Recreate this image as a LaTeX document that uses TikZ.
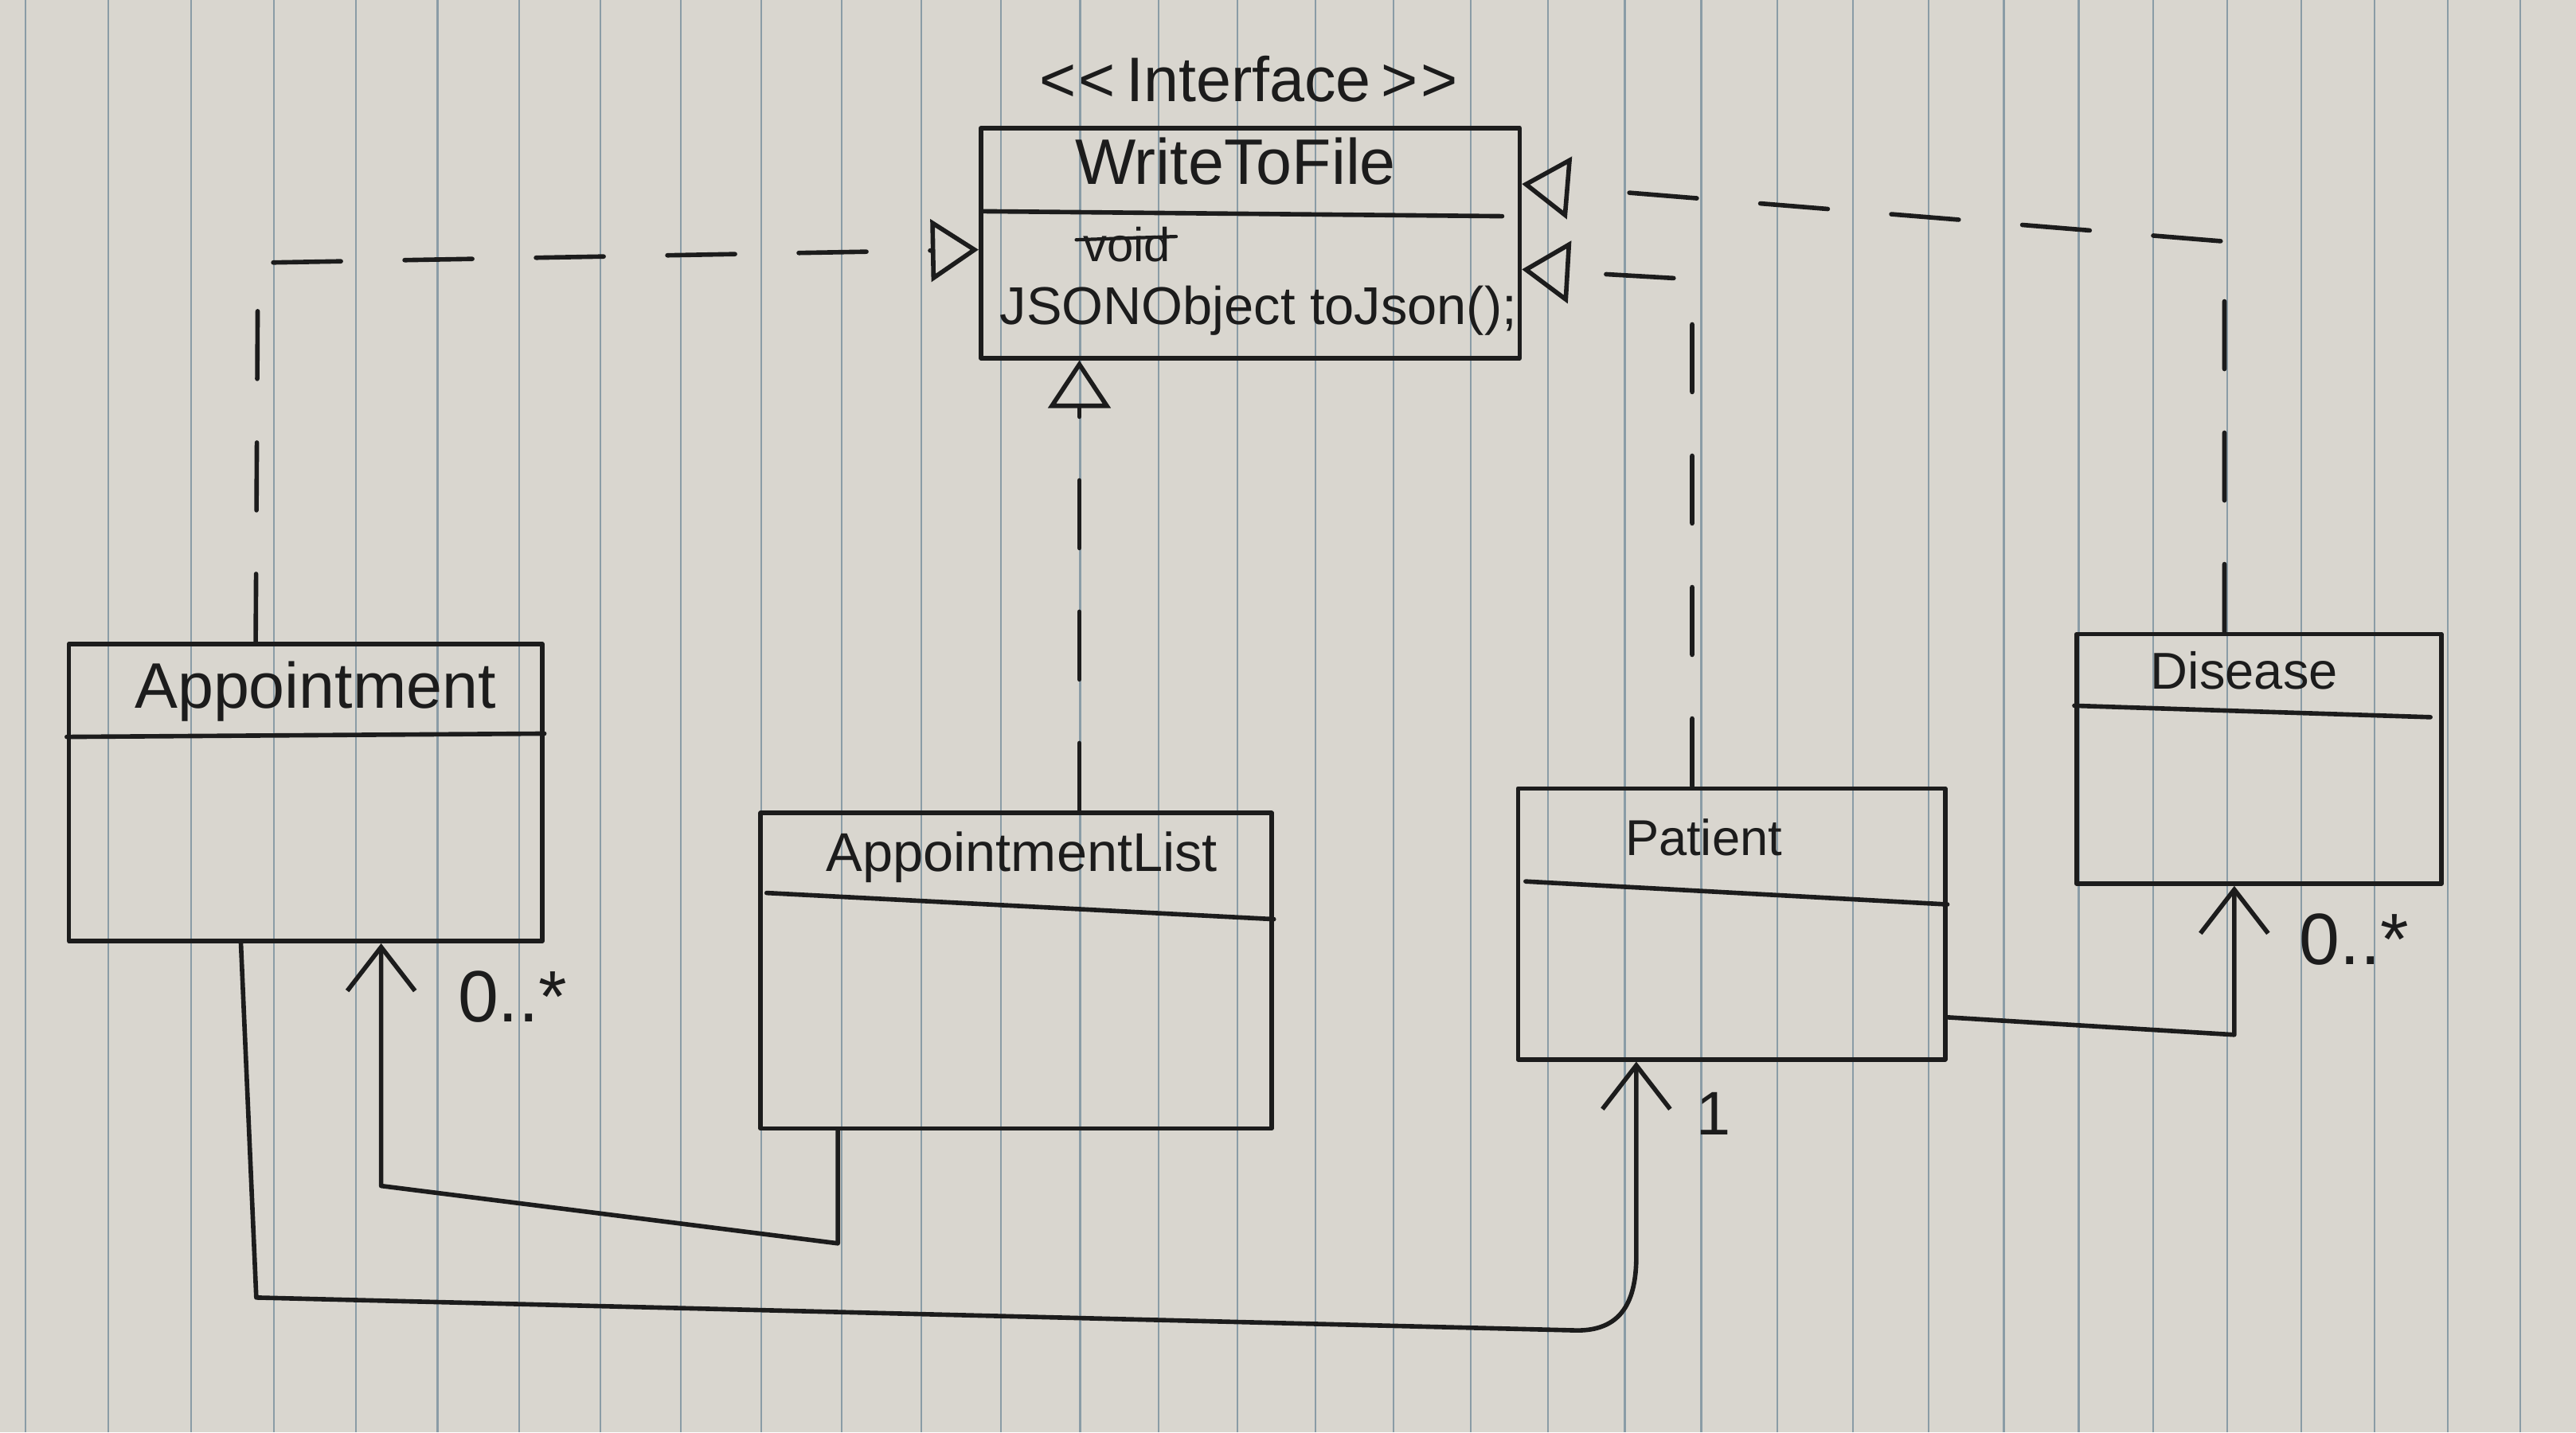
\documentclass[tikz,border=0pt]{standalone}
\usepackage{fontspec}
\setmainfont{Liberation Sans}
\usetikzlibrary{arrows.meta,fit,calc}
\definecolor{paper}{HTML}{D9D6CF}
\definecolor{rulec}{HTML}{8A9CA6}
\definecolor{ink}{HTML}{1C1C1C}
\begin{document}
\begin{tikzpicture}[x={(0.02063cm,0)}, y={(0,-0.02063cm)},
  pen/.style={draw=ink, line width=1.6pt, line cap=round, line join=round},
  cls/.style={pen, inner sep=0pt, rectangle},
  lbl/.style={inner sep=0pt, text=ink, anchor=center},
  dashpat/.style={dash pattern=on 0.85cm off 0.8cm},
  real/.style={pen, dashpat, -{Triangle[open, length=0.6cm, width=0.78cm]}},
  assoc/.style={pen, -{Straight Barb[length=0.55cm, width=0.85cm]}},
  rulestyle/.style={draw=rulec, line width=0.6pt},
  fs/.style={font=\fontsize{#1}{#1}\selectfont}]

% paper
\fill[paper] (0,0) rectangle (1568,872);
\useasboundingbox (0,0) rectangle (1568,872);
\foreach \k in {-1,...,31} {
  \pgfmathsetmacro\xx{(136+104*\k-0.2095*\k*(\k-1))/2.063}
  \draw[rulestyle] (\xx,0) -- (\xx,872);
}

% interface
\node[cls, fit={(597,78) (925,218)}] (iface) {};
\draw[pen] ($(iface.north west)+(3,52)$) -- ($(iface.north east)+(-12,55)$);
\node[lbl, fs=22.5] (stereo) at (760,48) {\textless\kern1pt\textless\,Interface\,\textgreater\kern1pt\textgreater};
\node[lbl, fs=23] (ifname) at (752,98) {WriteToFile};
\node[lbl, fs=17] (void) at (686,149) {void};
\draw[pen, line width=1.2pt] ($(void.west)+(-4,-3)$) -- ($(void.east)+(3,-5)$);
\node[lbl, fs=19] (method) at (766,189) {JSONObject toJson();};

% classes
\node[cls, fit={(42,392) (330,573)}] (appt) {};
\draw[pen] ($(appt.north west)+(0,58)$) -- ($(appt.north east)+(0,56)$);
\node[lbl, fs=23] (apptname) at (192,421) {Appointment};

\node[cls, fit={(463,495) (774,687)}] (alist) {};
\draw[pen] ($(alist.north west)+(5,50)$) -- ($(alist.north east)+(0,66)$);
\node[lbl, fs=19.5] (alistname) at (622,522) {AppointmentList};

\node[cls, fit={(924,480) (1184,645)}] (patient) {};
\draw[pen] ($(patient.north west)+(6,58)$) -- ($(patient.north east)+(0,72)$);
\node[lbl, fs=18] (patientname) at (1037,510) {Patient};

\node[cls, fit={(1264,386) (1486,538)}] (disease) {};
\draw[pen] ($(disease.north west)+(0,45)$) -- ($(disease.north east)+(-8,52)$);
\node[lbl, fs=18.5] (diseasename) at (1366,408) {Disease};

% associations
\coordinate (a1) at (510,757);
\coordinate (a2) at (232,722);
\draw[assoc] (alist.south -| a1) -- (a1) -- (a2) -- (appt.south -| a2);
\node[lbl, fs=26] (m1) at (312,607) {0..*};

\coordinate (b1) at (156,790);
\coordinate (b2) at (960,810);
\coordinate (b3) at (996,765);
\draw[assoc] ($(appt.south west)+(106,0)$) -- (b1) -- (b2)
  .. controls (985,810) and (996,795) .. (b3) -- (patient.south -| b3);
\node[lbl, fs=22] (m2) at (1043,678) {1};

\coordinate (d1) at (1360,630);
\draw[assoc] ($(patient.south east)+(0,-27)$) -- (d1) -- (disease.south -| d1);
\node[lbl, fs=26] (m3) at (1433,572) {0..*};

% realizations
\coordinate (r1) at (157,160);
\coordinate (r2) at (0,152);
\draw[real] ($(appt.north west)+(115,0)$) -- (r1) -- (iface.west |- r2);

\coordinate (s1) at (657,0);
\draw[real] (alist.north -| s1) -- (iface.south -| s1);

\coordinate (p1) at (1030,170);
\coordinate (p2) at (0,164);
\draw[real] (patient.north -| p1) -- (p1) -- (iface.east |- p2);

\coordinate (q1) at (1354,147);
\coordinate (q2) at (0,112);
\draw[real] (disease.north -| q1) -- (q1) -- (iface.east |- q2);
\end{tikzpicture}
\end{document}
